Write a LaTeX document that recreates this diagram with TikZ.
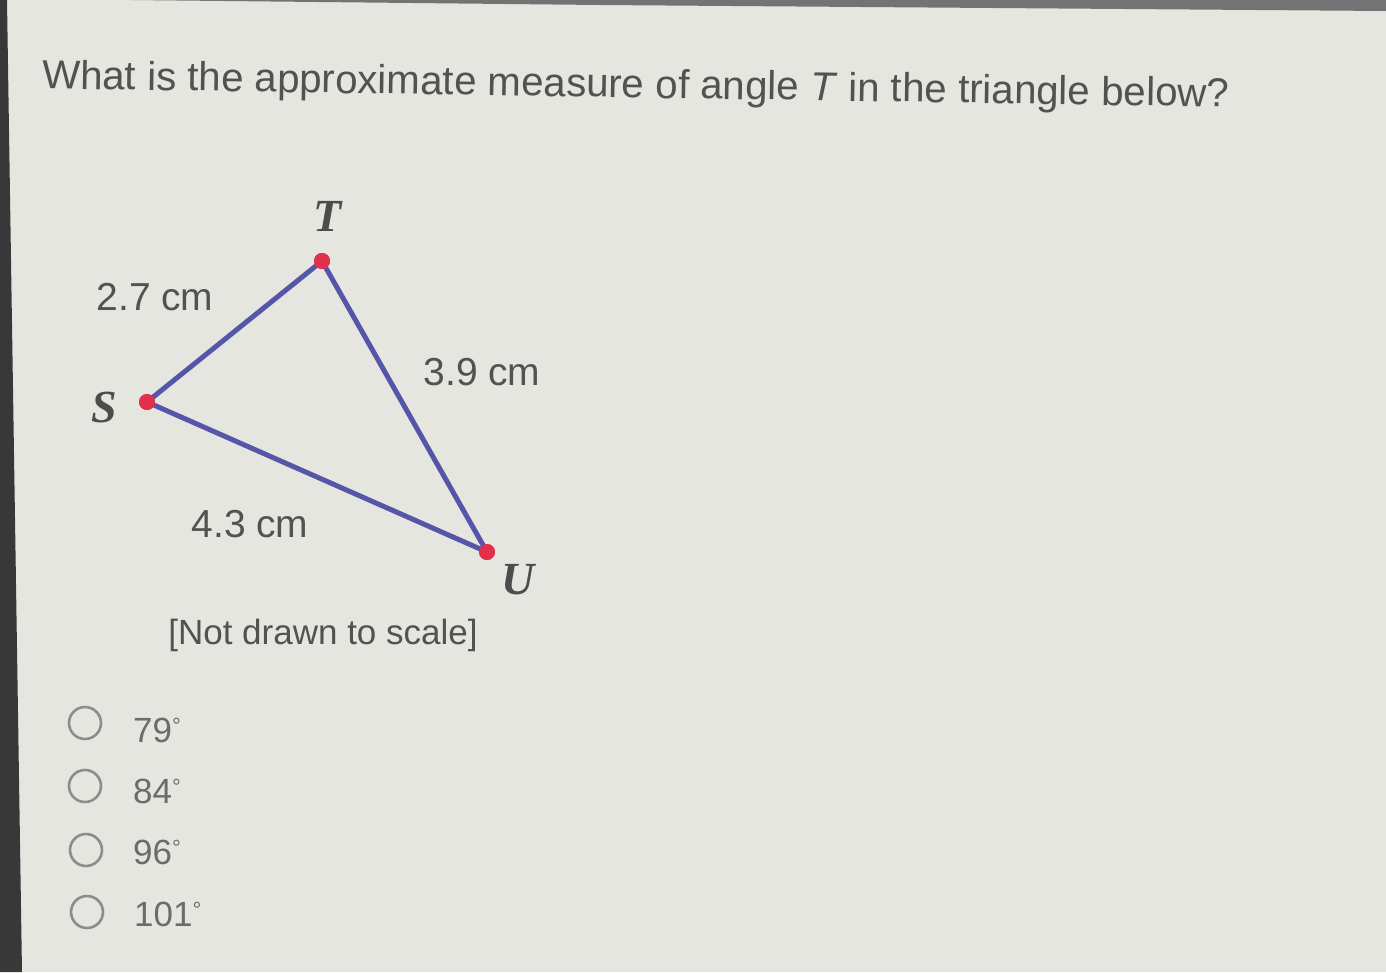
\documentclass[tikz,border=0pt]{standalone}
\usepackage{fontspec}
\setmainfont{Liberation Sans}
\newfontfamily\serifit{Liberation Serif}
\newcommand{\degmark}{\textsuperscript{\fontsize{22}{22}\selectfont °}}
\begin{document}
\begin{tikzpicture}[x=1pt,y=-1pt,
  txt/.style={text=black!68, inner sep=0pt, anchor=center},
  vlabel/.style={text=black!70, inner sep=0pt, font=\serifit\bfseries\itshape\fontsize{46}{50}\selectfont},
  side/.style={line width=5pt, draw=edgecol, line cap=round},
  vdot/.style={circle, fill=dotred, minimum size=16pt, inner sep=0pt},
  radio/.style={circle, draw=black!45, line width=2.6pt, minimum size=32pt, inner sep=0pt},
  opt/.style={text=black!58, inner sep=0pt, anchor=west, font=\fontsize{35}{40}\selectfont}]
\definecolor{bg}{HTML}{E6E6E0}
\definecolor{edgecol}{HTML}{5656A8}
\definecolor{dotred}{HTML}{E0304A}
\useasboundingbox (0,0) rectangle (1386,972);
\fill[bg] (0,0) rectangle (1386,972);
\fill[black!78] (0,0) -- (7,0) -- (22,972) -- (0,972) -- cycle;
\fill[black!55] (130,0) -- (1386,0) -- (1386,11) -- (600,5) -- cycle;
% question
\node[txt, anchor=west, font=\fontsize{40.3}{46}\selectfont, rotate=-0.9] (q) at (42,78)
  {What is the approximate measure of angle \textit{T} in the triangle below?};
% triangle
\node[vdot] (T) at (322,261) {};
\node[vdot] (S) at (147,402) {};
\node[vdot] (U) at (487,552) {};
\draw[side] (S.center) -- (T.center) -- (U.center) -- cycle;
\node[vdot] at (T) {};
\node[vdot] at (S) {};
\node[vdot] at (U) {};
\node[vlabel] (lT) at (328,216) {T};
\node[vlabel] (lS) at (104,407) {S};
\node[vlabel] (lU) at (518,580) {U};
\node[txt, font=\fontsize{39}{44}\selectfont] (a) at (155,297) {2.7 cm};
\node[txt, font=\fontsize{39}{44}\selectfont] (b) at (482,372) {3.9 cm};
\node[txt, font=\fontsize{39}{44}\selectfont] (c) at (250,524) {4.3 cm};
\node[txt, font=\fontsize{35}{40}\selectfont] (n) at (323,635) {[Not drawn to scale]};
% options
\node[radio] (r1) at (85,723) {};
\node[radio] (r2) at (85,786) {};
\node[radio] (r3) at (86,850) {};
\node[radio] (r4) at (87,912) {};
\node[opt] (o1) at (133,730) {79\degmark};
\node[opt] (o2) at (133,791) {84\degmark};
\node[opt] (o3) at (133,852) {96\degmark};
\node[opt] (o4) at (134,914) {101\degmark};
\end{tikzpicture}
\end{document}
